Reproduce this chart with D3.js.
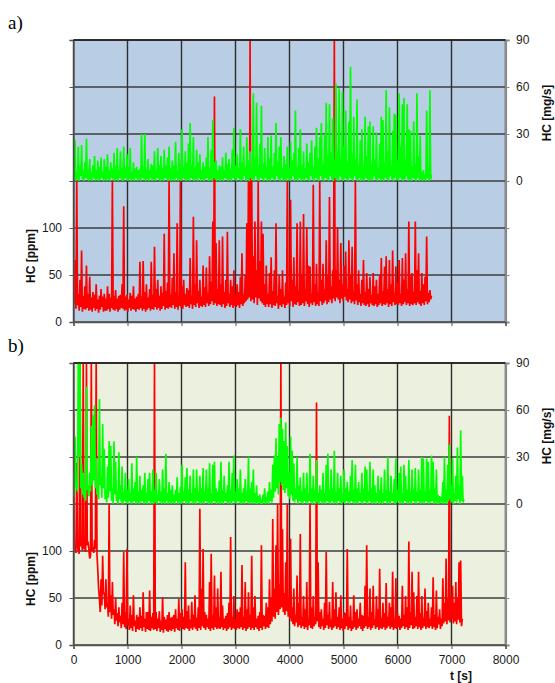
<!DOCTYPE html>
<html>
<head>
<meta charset="utf-8">
<script src="https://cdn.jsdelivr.net/npm/d3@7"></script>
<style>
  html, body { margin: 0; padding: 0; background: #ffffff; }
  svg { display: block; }
  .tick text { font-family: "Liberation Sans", Arial, sans-serif; font-size: 12px; fill: #1a1a1a; }
</style>
</head>
<body>
<svg id="chart" width="555" height="683"></svg>
<script>
// Sampling: one reading every 30 s from t = 0, plus the minimum
// reached between each pair of consecutive readings.
const sampleStep = 30;

// a) HC concentration [ppm]
const hcPpmA = [
  52,66,150,30,45,76,28,38,60,30, 48,26,32,29,40,24,28,35,27,30,
  25,38,30,26,150,28,34,25,28,29, 40,123,27,29,24,31,28,38,25,27,
  30,64,27,65,32,40,26,35,64,29, 80,35,45,28,38,31,94,33,42,150,
  29,47,73,32,105,28,150,38,45,30, 36,34,68,28,112,40,87,33,45,27,
  60,37,58,31,70,43,107,240,84,35, 87,40,91,32,45,96,30,45,38,55,
  29,40,32,48,73,30,50,105,150,300, 150,70,107,55,150,65,107,94,40,60,
  30,52,69,33,55,105,28,50,35,55, 27,42,150,32,130,45,69,38,105,33,
  107,50,115,35,101,60,59,30,146,40, 62,32,150,45,62,35,87,50,133,38,
  55,300,55,101,45,84,40,60,75,35, 87,50,80,33,150,40,55,30,45,66,
  32,52,35,48,29,52,38,45,30,50, 68,33,59,70,35,66,40,76,31,59,
  42,66,30,68,45,73,35,107,50,52, 32,107,55,73,33,52,40,48,91,31,
  34,28
];
const hcPpmAMin = [
  20,14,18,12,16,11,14,13,15,12, 13,11,15,12,14,10,13,16,11,12,
  12,14,11,15,13,12,14,11,13,15, 14,12,13,11,15,12,14,13,11,14,
  13,15,12,14,11,13,15,12,14,13, 16,13,15,12,14,17,13,15,14,16,
  15,18,14,16,13,17,15,14,18,16, 17,15,19,14,18,16,20,15,17,16,
  18,16,20,17,19,22,18,20,17,19, 18,16,19,15,17,20,16,18,15,17,
  16,18,15,19,17,20,22,24,26,22, 24,20,26,18,25,22,20,18,16,19,
  16,19,15,18,17,20,14,18,16,19, 15,18,20,17,22,16,19,18,21,17,
  18,20,17,22,19,16,20,18,21,17, 19,17,22,18,20,23,19,21,24,20,
  25,22,26,24,20,25,22,27,23,21, 24,20,22,19,23,18,21,17,20,18,
  17,19,16,20,18,17,19,16,18,20, 17,19,18,20,16,19,17,21,18,19,
  18,20,17,19,21,18,20,17,19,18, 20,18,21,19,17,20,18,22,19,21,
  24
];
// a) HC mass flow [mg/s]
const hcMgsA = [
  8,26,6,22,9,23,7,12,27,8, 14,6,10,16,7,13,9,15,6,14,
  9,17,7,12,8,18,10,21,7,19, 8,22,9,17,9,21,6,12,8,9,
  7,8,30,9,30,8,14,7,11,10, 19,7,21,10,16,8,20,10,15,22,
  8,13,10,25,7,18,11,33,9,19, 12,24,37,10,28,8,20,12,17,7,
  12,9,15,28,8,20,39,12,13,7, 10,9,15,7,18,11,14,8,20,34,
  10,17,8,33,12,22,9,28,13,19, 8,56,14,50,10,24,48,11,21,9,
  28,14,29,9,18,37,12,22,28,8, 16,11,22,8,25,13,18,45,9,21,
  33,10,19,8,24,12,18,26,9,22, 34,14,28,37,11,30,50,16,49,18,
  40,13,62,19,59,15,57,22,45,12, 38,73,18,41,14,52,10,26,33,9,
  41,16,35,38,10,35,14,31,8,24, 41,39,12,58,19,47,9,32,43,42,
  13,56,22,49,53,15,49,33,32,9, 38,11,56,16,29,6,7,4,45,8,
  58,4
];
const hcMgsAMin = [
  2,0,1,0,3,1,0,2,1,0, 1,0,2,0,1,0,1,2,0,1,
  0,1,0,2,1,0,1,0,2,1, 0,1,2,0,1,0,1,0,2,0,
  1,0,2,1,0,1,0,2,0,1, 0,2,1,0,1,0,2,1,0,1,
  0,1,0,2,0,1,0,2,1,0, 1,0,2,1,0,1,0,2,0,1,
  0,1,2,0,1,0,2,1,0,1, 0,1,0,2,1,0,1,0,2,1,
  0,2,1,0,1,3,0,1,0,2, 1,0,3,1,0,2,1,0,2,0,
  1,0,2,1,0,3,1,0,2,0, 1,0,2,0,1,3,0,1,0,2,
  0,1,0,2,1,0,3,1,0,2, 1,0,3,1,0,2,1,0,3,1,
  0,2,1,0,3,1,0,2,1,0, 2,1,0,3,1,0,2,0,1,0,
  2,1,0,1,0,3,1,0,2,0, 1,0,2,1,0,3,1,0,2,1,
  0,2,1,0,1,3,0,1,0,2, 1,0,2,0,1,0,1,0,2,0,
  1
];

// b) HC concentration [ppm]
const hcPpmB = [
  246,105,194,100,300,108,300,103,300,110, 92,300,104,112,300,80,50,70,95,55,
  70,45,150,53,67,38,50,34,40,31, 45,99,35,102,28,42,32,53,26,32,
  30,40,31,56,28,35,35,58,30,34, 300,35,28,36,26,51,30,27,32,35,
  29,30,32,38,28,49,34,38,30,88, 36,42,27,46,32,53,29,40,145,60,
  102,35,32,28,67,97,32,74,40,60, 30,78,42,28,31,34,45,115,30,52,
  26,38,35,40,85,30,67,38,56,32, 95,40,52,28,31,35,106,32,31,45,
  40,70,50,134,60,106,150,65,300,123, 55,88,150,50,113,40,60,32,74,45,
  118,30,52,38,67,28,150,40,52,30, 258,88,35,38,28,45,99,32,46,27,
  67,38,56,30,40,53,28,35,34,102, 30,42,26,53,35,38,28,45,32,31,
  63,106,30,60,35,63,27,52,38,81, 29,45,34,66,30,45,40,78,28,71,
  34,31,28,63,32,52,40,110,35,78, 56,30,52,78,34,52,29,60,36,45,
  28,40,72,32,58,30,38,28,71,45, 92,50,244,50,63,45,67,50,88,90,
  28
];
const hcPpmBMin = [
  102,98,104,97,105,100,103,99,106,101, 95,100,98,102,96,60,35,42,55,38,
  40,30,35,28,32,22,26,20,24,18, 22,19,17,21,16,18,15,20,14,17,
  16,18,15,19,14,17,16,15,18,16, 17,15,18,14,16,13,17,15,14,16,
  15,17,14,18,16,15,19,17,16,18, 17,15,18,16,19,17,15,18,16,20,
  18,16,19,17,15,18,16,19,17,18, 17,19,16,18,15,17,19,16,18,17,
  16,18,17,19,16,18,15,17,19,16, 18,16,19,17,15,18,16,20,17,19,
  18,22,25,30,28,35,32,38,40,35, 32,36,30,28,25,22,20,24,19,21,
  18,20,17,19,16,21,18,17,20,22, 25,19,17,20,16,18,21,17,19,16,
  18,20,17,19,16,18,15,17,20,16, 18,15,17,19,16,18,20,17,15,18,
  20,17,19,16,18,21,17,19,16,18, 17,19,16,18,20,17,19,16,18,17,
  19,16,18,20,17,19,16,18,21,17, 18,20,17,19,16,18,20,17,19,18,
  20,17,19,16,18,22,17,20,23,25, 22,26,24,28,23,25,22,27,24,20
];
// b) HC mass flow [mg/s]
const hcMgsB = [
  20,43,10,100,95,25,20,8,75,12, 20,50,57,63,29,10,67,18,51,35,
  9,24,40,37,10,40,27,8,33,12, 24,8,20,9,16,7,26,10,14,30,
  8,18,9,12,20,7,16,20,8,22, 9,20,6,16,8,22,10,32,7,14,
  9,12,6,9,17,7,11,25,8,17, 23,9,18,7,22,10,22,8,18,10,
  23,8,22,10,26,7,25,27,10,8, 15,27,9,18,7,12,27,9,20,31,
  8,16,10,22,7,10,16,8,30,10, 14,22,7,12,5,6,3,6,10,4,
  8,14,9,25,31,42,30,51,55,48, 40,52,37,20,43,34,26,10,30,12,
  17,8,20,10,20,7,32,10,18,9, 28,7,12,9,20,7,25,32,9,22,
  10,34,8,20,10,18,7,22,10,14, 8,18,28,9,25,10,14,7,20,10,
  24,22,8,27,10,22,12,7,18,9, 17,7,22,9,30,8,18,7,16,29,
  9,20,24,7,25,18,9,28,8,22, 10,23,8,22,9,30,29,8,29,27,
  9,31,27,10,22,6,5,3,14,30, 9,25,38,12,29,7,18,36,12,47,
  18,3
];
const hcMgsBMin = [
  5,12,8,30,10,6,4,2,9,5, 8,12,15,10,6,3,12,4,10,3,
  1,4,8,2,0,6,2,0,3,1, 0,2,1,0,2,0,1,2,0,1,
  0,1,2,0,1,0,2,0,1,0, 1,0,2,1,0,1,0,2,0,1,
  0,1,0,2,0,1,0,1,2,0, 1,0,2,0,1,0,2,1,0,1,
  0,2,1,0,1,0,2,1,0,1, 0,1,0,2,1,0,1,0,2,1,
  0,2,1,0,1,0,2,1,0,1, 0,1,0,0,1,0,0,1,0,1,
  0,2,1,4,8,10,6,14,12,9, 7,10,5,3,6,2,1,3,0,2,
  1,0,2,1,0,2,1,0,2,0, 1,0,2,0,1,0,2,1,0,2,
  0,1,0,2,1,0,1,0,2,1, 0,2,1,0,1,0,2,1,0,2,
  1,0,2,1,0,1,0,2,0,1, 0,1,2,0,1,0,2,1,0,1,
  2,0,1,0,2,1,0,1,0,2, 1,0,2,1,0,1,0,2,1,0,
  1,2,0,1,0,0,1,2,0,1, 0,2,3,1,0,2,1,3,0,2,
  1
];

// Axes
const timeDomain = [0, 8000];
const timeTicks = [0, 1000, 2000, 3000, 4000, 5000, 6000, 7000, 8000];
const ppmDomain = [0, 300];
const ppmTicks = [0, 50, 100, 150, 200, 250, 300];
const ppmLabels = [0, 50, 100];
const mgsDomain = [-90, 90];
const mgsTicks = [-90, -60, -30, 0, 30, 60, 90];
const mgsLabels = [0, 30, 60, 90];

const panels = [
  { tag: "a)", top: 40, ppm: hcPpmA, ppmMin: hcPpmAMin, mgs: hcMgsA, mgsMin: hcMgsAMin, fill: "#b9cde5", xLabels: false },
  { tag: "b)", top: 363, ppm: hcPpmB, ppmMin: hcPpmBMin, mgs: hcMgsB, mgsMin: hcMgsBMin, fill: "#ebf1de", xLabels: true }
];

// readings and in-between minima merged into one time-ordered trace
function trace(readings, minima) {
  const pts = [];
  readings.forEach((v, i) => {
    pts.push([i * sampleStep, v]);
    if (i < minima.length) pts.push([i * sampleStep + sampleStep / 2, minima[i]]);
  });
  return pts;
}

const svg = d3.select("#chart");
const left = 73.5, right = 505.5, plotH = 282;
const x = d3.scaleLinear().domain(timeDomain).range([left, right]);
const font = "Liberation Sans, Arial, sans-serif";

panels.forEach((p, k) => {
  const top = p.top, bottom = top + plotH;
  const yPpm = d3.scaleLinear().domain(ppmDomain).range([bottom, top]);
  const yMgs = d3.scaleLinear().domain(mgsDomain).range([bottom, top]);
  const g = svg.append("g");

  g.append("rect").attr("x", left).attr("y", top)
    .attr("width", right - left).attr("height", plotH).attr("fill", p.fill);

  // grid
  g.append("g").selectAll("line").data(ppmTicks).join("line")
    .attr("x1", left).attr("x2", right)
    .attr("y1", d => yPpm(d)).attr("y2", d => yPpm(d))
    .attr("stroke", "#3c3c3c").attr("stroke-width", 1.4);
  g.append("g").selectAll("line").data(timeTicks).join("line")
    .attr("x1", d => x(d)).attr("x2", d => x(d))
    .attr("y1", top).attr("y2", bottom)
    .attr("stroke", "#2e2e2e").attr("stroke-width", 1.4);

  // series
  const clipId = "clip" + k;
  g.append("clipPath").attr("id", clipId).append("rect")
    .attr("x", left).attr("y", top).attr("width", right - left).attr("height", plotH);

  const ppmLine = d3.line().x(d => x(d[0])).y(d => yPpm(d[1]));
  const mgsLine = d3.line().x(d => x(d[0])).y(d => yMgs(d[1]));

  g.append("path").datum(trace(p.ppm, p.ppmMin)).attr("d", ppmLine)
    .attr("fill", "none").attr("stroke", "#ff0000").attr("stroke-width", 1.7)
    .attr("stroke-linejoin", "miter").attr("clip-path", `url(#${clipId})`);
  g.append("path").datum(trace(p.mgs, p.mgsMin)).attr("d", mgsLine)
    .attr("fill", "none").attr("stroke", "#00ff00").attr("stroke-width", 1.7)
    .attr("stroke-linejoin", "miter").attr("clip-path", `url(#${clipId})`);

  // axes
  const axL = g.append("g").attr("transform", `translate(${left},0)`)
    .call(d3.axisLeft(yPpm).tickValues(ppmTicks).tickSize(4).tickPadding(7.5)
      .tickFormat(d => ppmLabels.includes(d) ? d : ""));
  axL.select(".domain").attr("stroke", "#555").attr("stroke-width", 1.4);
  axL.selectAll(".tick line").attr("stroke", "#555");

  const axR = g.append("g").attr("transform", `translate(${right},0)`)
    .call(d3.axisRight(yMgs).tickValues(mgsTicks).tickSize(4).tickPadding(6.5)
      .tickFormat(d => mgsLabels.includes(d) ? d : ""));
  axR.select(".domain").attr("stroke", "#8a8a8a").attr("stroke-width", 2.2);
  axR.selectAll(".tick line").attr("stroke", "#8a8a8a");

  const axB = g.append("g").attr("transform", `translate(0,${bottom})`)
    .call(d3.axisBottom(x).tickValues(timeTicks).tickSize(4).tickPadding(6.5)
      .tickFormat(d => p.xLabels ? d : ""));
  axB.select(".domain").attr("stroke", "#555").attr("stroke-width", 1.4);
  axB.selectAll(".tick line").attr("stroke", "#555");

  // top edge
  g.append("line").attr("x1", left).attr("x2", right)
    .attr("y1", top).attr("y2", top).attr("stroke", "#1a1a1a").attr("stroke-width", 1.4);

  // titles
  g.append("text").text("HC [ppm]")
    .attr("transform", `translate(35,${top + 216}) rotate(-90)`)
    .attr("text-anchor", "middle").attr("font-family", font)
    .attr("font-weight", "bold").attr("font-size", 12).attr("fill", "#111");
  g.append("text").text("HC [mg/s]")
    .attr("transform", `translate(551,${top + 73}) rotate(-90)`)
    .attr("text-anchor", "middle").attr("font-family", font)
    .attr("font-weight", "bold").attr("font-size", 12).attr("fill", "#111");

  g.append("text").text(p.tag)
    .attr("x", 8).attr("y", top - 11)
    .attr("font-family", "Liberation Serif, Times New Roman, serif")
    .attr("font-size", 19).attr("fill", "#000");
});

svg.append("text").text("t [s]")
  .attr("x", 461).attr("y", 680)
  .attr("text-anchor", "middle").attr("font-family", font)
  .attr("font-weight", "bold").attr("font-size", 12).attr("fill", "#111");
</script>
</body>
</html>
